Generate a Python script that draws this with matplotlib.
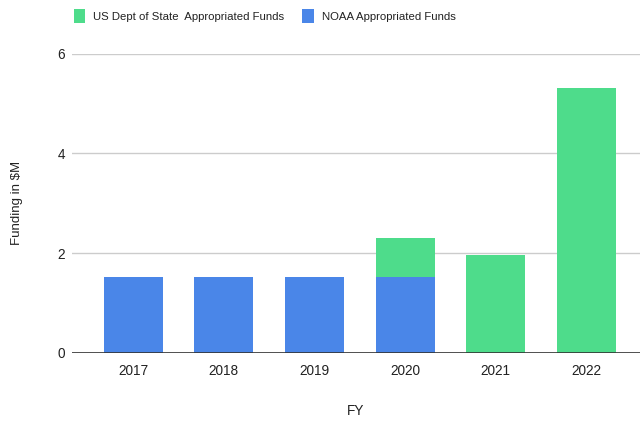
import matplotlib
matplotlib.use('Agg')
import matplotlib.pyplot as plt
import numpy as np

years = ['2017', '2018', '2019', '2020', '2021', '2022']
noaa = [1.52, 1.52, 1.52, 1.52, 0, 0]
state = [0, 0, 0, 0.79, 1.97, 5.31]

blue = '#4a86e8'
green = '#4edc8b'

plt.rcParams['font.family'] = ['Liberation Sans', 'DejaVu Sans']

fig = plt.figure(figsize=(6.44, 4.23), dpi=100)
ax = fig.add_axes([72 / 644, 70.3 / 423, 568 / 644, 299 / 423])

x = np.arange(len(years))
ax.bar(x, noaa, width=0.65, color=blue, zorder=3, label='NOAA Appropriated Funds')
ax.bar(x, state, width=0.65, bottom=noaa, color=green, zorder=3,
       label='US Dept of State  Appropriated Funds')

ax.set_ylim(0, 6)
ax.set_yticks([0, 2, 4, 6])
ax.set_xlim(-0.673, 5.59)
ax.set_xticks(x)
ax.set_xticklabels(years)
ax.yaxis.grid(True, color='#cccccc', linewidth=1, zorder=0)
for s in ax.spines.values():
    s.set_visible(False)
ax.axhline(0, color='#333333', linewidth=1.2, zorder=4)
ax.tick_params(length=0, labelsize=9.8, colors='#222222')
ax.tick_params(axis='y', pad=5)
ax.tick_params(axis='x', pad=8)

ax.set_xlabel('FY', fontsize=9.8, color='#222222', labelpad=19)
ax.set_ylabel('Funding in $M', fontsize=9.5, color='#222222', labelpad=25)

h, l = ax.get_legend_handles_labels()
fig.legend(h[::-1], l[::-1], loc='center', bbox_to_anchor=(0.411, 0.962), ncol=2,
           frameon=False, fontsize=8.2, handlelength=1.0, handleheight=1.5,
           handletextpad=0.7, columnspacing=1.6, labelcolor='#222222')

fig.savefig('out.png', dpi=100)
